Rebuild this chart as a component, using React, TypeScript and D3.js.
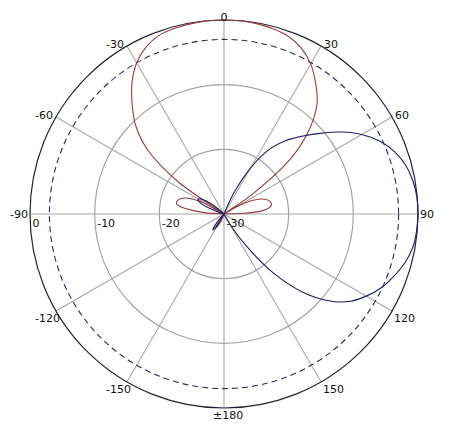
import React from "react";
import * as d3 from "d3";

const angleTicks = [0, 30, 60, 90, 120, 150, 180, -150, -120, -90, -60, -30];
const angleTickLabels = ["0", "30", "60", "90", "120", "150", "\u00b1180", "-150", "-120", "-90", "-60", "-30"];
const radialTicks = [0, -10, -20, -30];
const radialTickLabels = ["0", "-10", "-20", "-30"];
const ringLevels = [-20, -10];
const dashedLevel = -3;

const redAngles = [-180, -160, -155, -150, -145, -140, -90, -86, -82, -78, -74, -70, -66, -62, -58, -55, -50, -45, -40, -35, -30, -25, -20, -15, -10, -5, 0, 5, 10, 15, 20, 25, 30, 35, 40, 45, 50, 55, 57, 60, 65, 70, 75, 80, 85, 88, 90, 120, 150];
const redDb = [-30, -30, -28.5, -27.6, -28.5, -30, -30, -27, -24, -22.5, -22.5, -23, -24, -26, -30, -21.5, -14.6, -10.7, -7.9, -5.2, -3.0, -1.5, -0.6, -0.3, -0.15, -0.05, 0, -0.05, -0.15, -0.4, -0.8, -1.7, -3.2, -5.3, -7.6, -11.2, -16.2, -24.5, -30, -28, -25, -23.3, -22.6, -22.6, -24, -27, -30, -30, -30];

const blueAngles = [-180, -155, -150, -145, -140, -135, -75, -70, -65, -60, -55, -50, -45, 0, 20, 25, 30, 35, 40, 45, 50, 55, 60, 65, 70, 75, 80, 85, 90, 95, 100, 105, 110, 115, 120, 125, 130, 135, 140, 145, 150, 155];
const blueDb = [-30, -30, -28, -27, -28.3, -30, -30, -28.5, -26, -25.4, -26.2, -28, -30, -30, -30, -26.5, -21.8, -17.8, -15.2, -13, -10.6, -7.9, -5.4, -3.4, -1.9, -0.9, -0.35, -0.05, 0, -0.1, -0.35, -1.0, -2.0, -3.1, -4.6, -6.4, -9.2, -13, -18, -24, -28, -30];

const W = 456;
const H = 438;
const cx = 224;
const cy = 214;
const R = 194;

export default function App() {
  const r = d3.scaleLinear().domain([-30, 0]).range([0, R]).clamp(true);
  const toRad = (a: number) => (a * Math.PI) / 180;
  const line = d3
    .lineRadial<[number, number]>()
    .angle((d) => toRad(d[0]))
    .radius((d) => r(d[1]))
    .curve(d3.curveCatmullRomClosed.alpha(0.5));
  const redPts = redAngles.map((a, i) => [a, redDb[i]] as [number, number]);
  const bluePts = blueAngles.map((a, i) => [a, blueDb[i]] as [number, number]);

  const font = { fontFamily: "DejaVu Sans", fontSize: 11, fill: "#111" };

  const labelFor = (a: number, i: number) => {
    const ex = cx + R * Math.sin(toRad(a));
    const ey = cy - R * Math.cos(toRad(a));
    const t = angleTickLabels[i];
    let x = ex;
    let y = ey;
    let anchor: "start" | "middle" | "end" = "middle";
    if (a === 0) {
      y = ey + 1;
    } else if (a === 180) {
      x = cx - 11;
      y = ey + 11;
      anchor = "start";
    } else if (a === 90) {
      x = ex + 2;
      y = cy + 4;
      anchor = "start";
    } else if (a === -90) {
      x = ex - 2;
      y = cy + 4;
      anchor = "end";
    } else if (Math.abs(a) < 90) {
      y = ey + 2;
      if (a > 0) {
        x = ex + 3;
        anchor = "start";
      } else {
        x = ex - 3;
        anchor = "end";
      }
    } else {
      y = ey + 11;
      if (a > 0) {
        x = ex + 2;
        anchor = "start";
      } else {
        x = ex + 4;
        anchor = "end";
      }
    }
    return (
      <text key={"al" + i} x={x} y={y} textAnchor={anchor} {...font}>
        {t}
      </text>
    );
  };

  return (
    <svg
      width={W}
      height={H}
      style={{ position: "absolute", left: 0, top: 0, background: "#fff" }}
    >
      <rect x={0} y={0} width={W} height={H} fill="#fff" />
      {angleTicks.map((a, i) => (
        <line
          key={"sp" + i}
          x1={cx}
          y1={cy}
          x2={cx + R * Math.sin(toRad(a))}
          y2={cy - R * Math.cos(toRad(a))}
          stroke="#a8a8a8"
          strokeWidth={1.1}
        />
      ))}
      {ringLevels.map((lv, i) => (
        <circle key={"rg" + i} cx={cx} cy={cy} r={r(lv)} fill="none" stroke="#a4a4a4" strokeWidth={1.2} />
      ))}
      <circle cx={cx} cy={cy} r={r(dashedLevel)} fill="none" stroke="#2a2a55" strokeWidth={1.1} strokeDasharray="6,4" />
      <circle cx={cx} cy={cy} r={r(0)} fill="none" stroke="#222233" strokeWidth={1.2} />
      <g transform={`translate(${cx},${cy})`}>
        <path d={line(redPts) || ""} fill="none" stroke="#9a3c3c" strokeWidth={1.1} />
        <path d={line(bluePts) || ""} fill="none" stroke="#1e1e66" strokeWidth={1.1} />
      </g>
      {angleTicks.map((a, i) => labelFor(a, i))}
      {radialTicks.map((v, i) => (
        <text key={"rl" + i} x={cx - r(v) + 2.5} y={227} textAnchor="start" {...font}>
          {radialTickLabels[i]}
        </text>
      ))}
    </svg>
  );
}
